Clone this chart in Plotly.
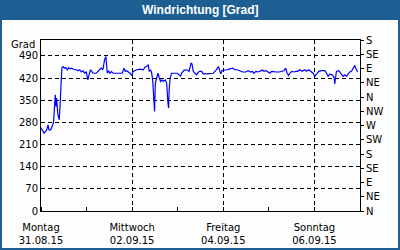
import pandas as pd
import plotly.graph_objects as go

# ---- data ----
start = "2015-08-31 00:00"
hours = [0, 0.5, 1.6, 2.3, 3, 3.7, 4.2, 5.1, 5.8, 6.5,
         6.8, 7.5, 7.9, 8.2, 8.9, 9.6, 10, 10.4, 11, 11.7,
         12.4, 13.1, 13.8, 14.6, 15.3, 15.9, 16.7, 17.7, 18.8, 19.5,
         20.4, 21.2, 22.1, 23, 23.8, 24.7, 25.3, 26.1, 26.8, 27.4,
         29.1, 30, 30.9, 31.7, 32.6, 33.5, 34.2, 34.6, 34.9, 35.6,
         36.3, 37.1, 37.9, 39.7, 41.4, 42.8, 43.7, 44.4, 45.1, 46,
         46.9, 47.7, 48.6, 50.4, 52.1, 53.9, 54.7, 55.6, 56.5, 57,
         57.7, 58.3, 58.8, 59.5, 59.8, 60.2, 60.9, 61.6, 62.3, 63,
         63.7, 64.4, 65.4, 66.2, 66.8, 67.2, 67.5, 68, 68.8, 70.5,
         71.7, 72.8, 73.5, 74, 75.3, 76.7, 78, 79, 79.5, 80.2,
         81, 81.9, 82.8, 83.7, 84.6, 85.4, 87.2, 89, 90.7, 92.1,
         93.2, 93.5, 94.2, 94.7, 95.4, 96.5, 97.7, 99.1, 100.9, 102.1,
         103.3, 104.7, 106.2, 107.9, 109.1, 110.4, 111.4, 112.1, 113.2, 114.4,
         115.6, 116.7, 117.4, 118.4, 119.6, 120.5, 121.4, 122.6, 124, 125.4,
         126.7, 127.9, 128.9, 129.6, 130.4, 131, 132.1, 133.2, 134.2, 135.1,
         136.3, 137.5, 138.9, 139.8, 141, 142.1, 143.3, 144.2, 145.1, 146.3,
         147.7, 149.5, 150.4, 151.2, 152.1, 153.3, 154.4, 154.7, 155.1, 155.6,
         156.8, 158.3, 159.1, 160, 160.9, 161.7, 162.6, 163.5, 164.4, 165.3,
         165.9, 166.7]
direction = [263, 256, 246, 251, 256, 272, 256, 256, 267, 277,
             298, 367, 330, 357, 304, 288, 329, 409, 453, 456,
             451, 453, 446, 453, 449, 451, 449, 446, 446, 443,
             446, 439, 443, 435, 440, 414, 430, 446, 440, 435,
             435, 440, 446, 451, 446, 478, 488, 460, 435, 443,
             435, 440, 435, 435, 435, 435, 451, 441, 443, 439,
             435, 428, 441, 446, 448, 446, 454, 456, 462, 441,
             446, 435, 414, 346, 314, 404, 425, 435, 420, 409,
             414, 409, 414, 404, 346, 325, 383, 420, 435, 435,
             435, 430, 425, 435, 444, 446, 441, 467, 465, 441,
             435, 430, 438, 441, 441, 433, 433, 433, 435, 444,
             451, 456, 441, 433, 444, 444, 446, 448, 451, 446,
             446, 443, 439, 439, 443, 439, 441, 435, 441, 439,
             443, 445, 441, 443, 439, 435, 441, 439, 439, 439,
             441, 443, 451, 435, 428, 435, 441, 439, 441, 441,
             446, 441, 446, 441, 446, 441, 435, 425, 432, 441,
             443, 443, 435, 425, 432, 430, 422, 401, 420, 441,
             443, 432, 425, 430, 425, 432, 439, 441, 451, 460,
             449, 439]

x_range = ["2015-08-31 00:00", "2015-09-07 00:00"]
x_tickvals = ["2015-08-31", "2015-09-02", "2015-09-04", "2015-09-06"]
x_ticktext = ["Montag<br>31.08.15", "Mittwoch<br>02.09.15",
              "Freitag<br>04.09.15", "Sonntag<br>06.09.15"]
y_tickvals = [0, 70, 140, 210, 280, 350, 420, 490]
compass_vals = [0, 45, 90, 135, 180, 225, 270, 315, 360, 405, 450, 495, 540]
compass_text = ["N", "NE", "E", "SE", "S", "SW", "W", "NW", "N", "NE", "E", "SE", "S"]
title_text = "Windrichtung [Grad]"
unit_label = "Grad"

times = pd.Timestamp(start) + pd.to_timedelta(hours, unit="h")

BLUE = "#1d5f93"
BG = "#fcfdfc"
FONT = "DejaVu Sans"

fig = go.Figure()
fig.add_trace(go.Scatter(x=times, y=direction, mode="lines",
                         line=dict(color="#0000ff", width=1.2),
                         hoverinfo="skip"))
fig.add_trace(go.Scatter(x=[], y=[], yaxis="y2", mode="lines",
                         hoverinfo="skip"))

L, R, T, B = 41, 40, 40, 39
W, H = 400, 250
pw, ph = W - L - R, H - T - B

def px_x(p):
    return (p - L) / pw

def px_y(p):
    return (H - B - p) / ph

fig.update_layout(
    template="none",
    width=W, height=H,
    margin=dict(l=L, r=R, t=T, b=B, pad=0, autoexpand=False),
    paper_bgcolor=BLUE, plot_bgcolor=BG,
    showlegend=False,
    font=dict(family=FONT, size=10, color="black"),
    xaxis=dict(type="date", range=x_range, tickmode="array", automargin=False,
               tickvals=x_tickvals, ticktext=x_ticktext,
               ticks="outside", ticklen=7, tickcolor="rgba(0,0,0,0)",
               showgrid=True, gridcolor="black", gridwidth=1, griddash="4px,3px",
               showline=True, linecolor="black", linewidth=1, mirror=True,
               zeroline=False,
               minor=dict(ticks="inside", ticklen=4, tickcolor="black",
                          dtick=86400000, tick0="2015-08-31", showgrid=False),
               tickfont=dict(family=FONT, size=10, color="black")),
    yaxis=dict(range=[0, 540], tickmode="array", tickvals=y_tickvals,
               automargin=False,
               ticks="", showgrid=True, gridcolor="black", gridwidth=1,
               griddash="4px,3px", showline=True, linecolor="black",
               linewidth=1, zeroline=False,
               tickfont=dict(family=FONT, size=10, color="black")),
    yaxis2=dict(range=[0, 540], overlaying="y", side="right", automargin=False,
                tickmode="array", tickvals=compass_vals, ticktext=compass_text,
                ticks="outside", ticklen=3, tickcolor="black",
                showgrid=False, showline=True, linecolor="black",
                linewidth=1, zeroline=False,
                tickfont=dict(family=FONT, size=10, color="black")),
    shapes=[dict(type="rect", xref="paper", yref="paper",
                 x0=px_x(2), x1=px_x(398), y0=px_y(248), y1=px_y(20),
                 fillcolor=BG, line=dict(width=0), layer="below")],
    annotations=[
        dict(text="<b>" + title_text + "</b>", xref="paper", yref="paper",
             x=px_x(200), y=px_y(10.5), xanchor="center", yanchor="middle",
             showarrow=False,
             font=dict(family="Liberation Sans", size=12, color="white")),
        dict(text=unit_label, xref="paper", yref="paper",
             x=px_x(37), y=px_y(44), xanchor="right", yanchor="middle",
             showarrow=False,
             font=dict(family=FONT, size=10, color="black")),
    ],
)

fig.write_html("out.html")
